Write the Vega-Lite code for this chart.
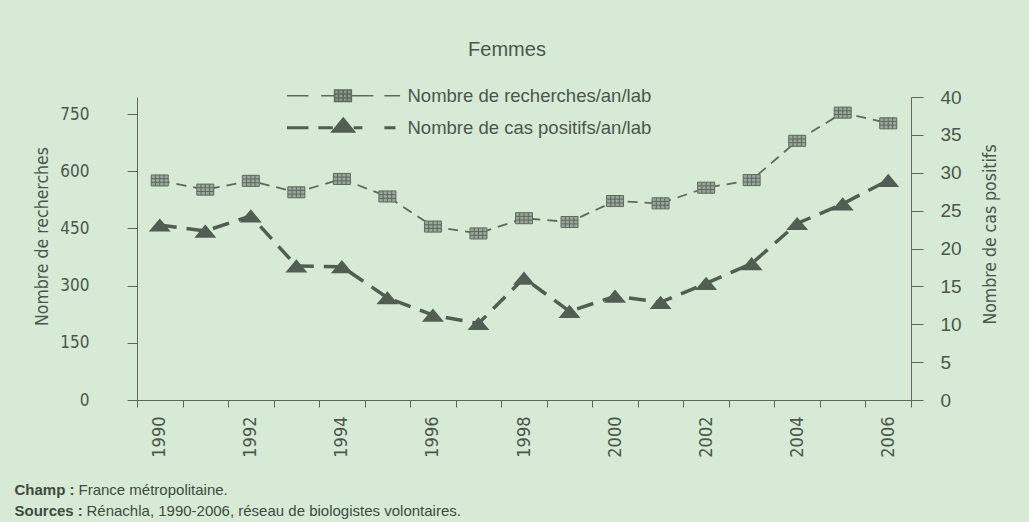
{
  "$schema": "https://vega.github.io/schema/vega-lite/v6.json",
  "width": 774,
  "height": 303,
  "autosize": {"type": "none"},
  "padding": {"left": 137, "top": 97, "right": 118, "bottom": 122},
  "background": "#d6ead5",
  "config": {"view": {"stroke": null}, "font": "Liberation Sans"},
  "title": {"text": "Femmes", "font": "Liberation Sans", "fontSize": 20, "fontWeight": "normal", "color": "#4b574d", "anchor": "middle", "dx": -17, "offset": 27},
  "data": {"values": [
    {"year": "1990", "recherches": 576, "cas": 23.1},
    {"year": "1991", "recherches": 552, "cas": 22.3},
    {"year": "1992", "recherches": 575, "cas": 24.3},
    {"year": "1993", "recherches": 545, "cas": 17.7},
    {"year": "1994", "recherches": 580, "cas": 17.6},
    {"year": "1995", "recherches": 534, "cas": 13.5},
    {"year": "1996", "recherches": 455, "cas": 11.2},
    {"year": "1997", "recherches": 437, "cas": 10.1},
    {"year": "1998", "recherches": 477, "cas": 16.1},
    {"year": "1999", "recherches": 467, "cas": 11.7},
    {"year": "2000", "recherches": 522, "cas": 13.7},
    {"year": "2001", "recherches": 516, "cas": 12.9},
    {"year": "2002", "recherches": 557, "cas": 15.4},
    {"year": "2003", "recherches": 577, "cas": 18.0},
    {"year": "2004", "recherches": 680, "cas": 23.3},
    {"year": "2005", "recherches": 754, "cas": 25.9},
    {"year": "2006", "recherches": 726, "cas": 29.0}
  ]},
  "layer": [
    {
      "encoding": {
        "x": {"field": "year", "type": "ordinal",
          "scale": {"type": "band", "paddingInner": 0, "paddingOuter": 0},
          "axis": {
            "orient": "bottom",
            "title": ["Champ :", "Sources :"],
            "titleFont": "Liberation Sans", "titleFontWeight": "bold", "titleFontSize": 15, "titleColor": "#3f4a41",
            "titleAlign": "left", "titleBaseline": "alphabetic", "titleAngle": 0,
            "titleX": -123, "titleY": 94, "titleLineHeight": 21,
            "labelAngle": 270, "labelFont": "'DejaVu Sans Condensed', 'Liberation Sans', sans-serif", "labelFontSize": 18, "labelColor": "#4b574d",
            "labelPadding": 9, "labelOverlap": false, "labelFlush": false,
            "labelExpr": "toNumber(datum.value) % 2 == 0 ? datum.label : ''",
            "tickSize": 7, "tickBand": "extent", "tickColor": "#5b685c", "domainColor": "#5b685c", "grid": false
          }
        },
        "y": {"field": "recherches", "type": "quantitative",
          "scale": {"domain": [0, 795], "nice": false},
          "axis": {
            "orient": "left", "values": [0, 150, 300, 450, 600, 750], "grid": false,
            "title": "Nombre de recherches", "titleFont": "'DejaVu Sans Condensed', 'Liberation Sans', sans-serif", "titleFontSize": 17.5, "titleFontWeight": "normal",
            "titleColor": "#4b574d", "titleX": -95, "titleY": 139, "titleAngle": 270, "titleAlign": "center", "titleBaseline": "middle",
            "labelFont": "'DejaVu Sans Condensed', 'Liberation Sans', sans-serif", "labelFontSize": 17, "labelColor": "#4b574d", "labelPadding": 38, "labelFlush": false,
            "tickSize": 10, "tickColor": "#5b685c", "domainColor": "#5b685c"
          }
        }
      },
      "layer": [
        {
          "mark": {"type": "line", "strokeWidth": 1.8, "strokeDash": [10, 7]},
          "encoding": {
            "color": {"datum": "Nombre de recherches/an/lab",
              "scale": {"domain": ["Nombre de recherches/an/lab", "Nombre de cas positifs/an/lab"], "range": ["#5d6a5e", "#525e53"]},
              "legend": {
                "orient": "none", "legendX": 148, "legendY": -10.5, "title": null, "padding": 0,
                "labelFont": "Liberation Sans", "labelFontSize": 18.5, "labelColor": "#4b574d", "labelLimit": 400,
                "labelOffset": 55, "symbolOffset": 49, "symbolSize": 200, "rowPadding": 7,
                "encode": {"symbols": {"update": {
                  "shape": {"signal": "datum.value == 'Nombre de recherches/an/lab' ? 'M-0.97,0H-0.6M-0.38,0H-0.15M-0.15,-0.1H0.14V0.1H-0.15ZM-0.15,-0.03H0.14M-0.15,0.04H0.14M-0.08,-0.1V0.1M0,-0.1V0.1M0.07,-0.1V0.1M0.14,0H0.52M0.71,0H0.98' : 'M-0.97,0H-0.6M-0.43,0H-0.18M-0.17,0.06L0,-0.15L0.17,0.06ZM0.18,0H0.33M0.71,0H0.9'"},
                  "size": {"value": 13456},
                  "fill": {"signal": "datum.value == 'Nombre de recherches/an/lab' ? '#8d998e' : '#525e53'"},
                  "stroke": {"signal": "datum.value == 'Nombre de recherches/an/lab' ? '#6a766b' : '#525e53'"},
                  "strokeWidth": {"signal": "datum.value == 'Nombre de recherches/an/lab' ? 1.5 : 3"},
                  "opacity": {"value": 1}
                }}}
              }
            }
          }
        },
        {
          "mark": {"type": "point", "shape": "M-1,-0.65H1V0.65H-1ZM-1,-0.22H1M-1,0.22H1M-0.5,-0.65V0.65M0,-0.65V0.65M0.5,-0.65V0.65",
            "size": 289, "filled": true, "fill": "#9aa59b", "stroke": "#5d6a5e", "strokeWidth": 1, "opacity": 1}
        }
      ]
    },
    {
      "encoding": {
        "x": {"field": "year", "type": "ordinal",
          "scale": {"type": "band", "paddingInner": 0, "paddingOuter": 0},
          "axis": {
            "orient": "bottom", "domain": false, "ticks": false, "labels": false, "grid": false,
            "title": "France métropolitaine.",
            "titleFont": "Liberation Sans", "titleFontWeight": "normal", "titleFontSize": 15, "titleColor": "#3f4a41",
            "titleAlign": "left", "titleBaseline": "alphabetic", "titleAngle": 0,
            "titleX": -59, "titleY": 94
          }
        },
        "y": {"field": "cas", "type": "quantitative",
          "scale": {"domain": [0, 40], "nice": false},
          "axis": {
            "orient": "right", "values": [0, 5, 10, 15, 20, 25, 30, 35, 40], "grid": false,
            "title": "Nombre de cas positifs", "titleFont": "'DejaVu Sans Condensed', 'Liberation Sans', sans-serif", "titleFontSize": 17.5, "titleFontWeight": "normal",
            "titleColor": "#4b574d", "titleX": 79, "titleY": 137, "titleAngle": 270, "titleAlign": "center", "titleBaseline": "middle",
            "labelFont": "Liberation Sans", "labelFontSize": 19, "labelColor": "#4b574d", "labelPadding": 17, "labelFlush": false,
            "tickSize": 12, "tickColor": "#5b685c", "domainColor": "#5b685c"
          }
        }
      },
      "layer": [
        {
          "mark": {"type": "line", "strokeWidth": 3.5, "strokeDash": [17, 10]},
          "encoding": {"color": {"datum": "Nombre de cas positifs/an/lab"}}
        },
        {
          "mark": {"type": "point", "shape": "M0,-0.6L1,0.6L-1,0.6Z", "size": 484, "filled": true, "fill": "#525e53", "strokeWidth": 0, "opacity": 1},
          "encoding": {
            "x": {"field": "year", "type": "ordinal",
              "scale": {"type": "band", "paddingInner": 0, "paddingOuter": 0},
              "axis": {
                "orient": "bottom", "domain": false, "ticks": false, "labels": false, "grid": false,
                "title": "Rénachla, 1990-2006, réseau de biologistes volontaires.",
                "titleFont": "Liberation Sans", "titleFontWeight": "normal", "titleFontSize": 15, "titleColor": "#3f4a41",
                "titleAlign": "left", "titleBaseline": "alphabetic", "titleAngle": 0,
                "titleX": -51, "titleY": 115
              }
            }
          }
        }
      ],
      "resolve": {"axis": {"x": "independent"}}
    }
  ],
  "resolve": {"scale": {"y": "independent"}, "axis": {"x": "independent", "y": "independent"}}
}
